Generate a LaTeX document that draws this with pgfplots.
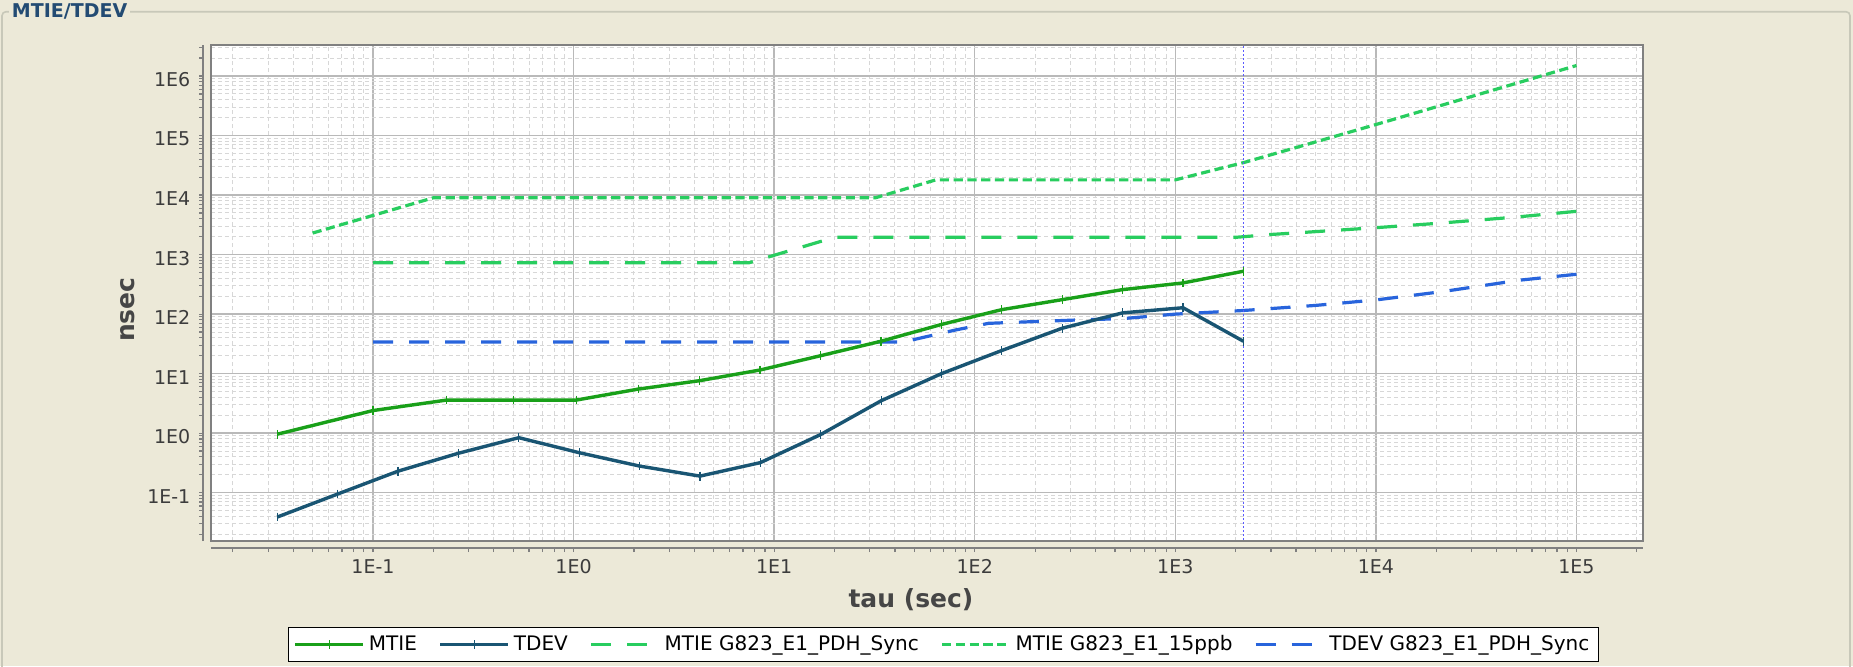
\documentclass[border=0pt]{standalone}
\usepackage{fontspec}
\setmainfont{DejaVu Sans}
\usepackage{pgfplots}
\pgfplotsset{compat=1.18}
\definecolor{bgbeige}{RGB}{236,233,216}
\definecolor{panelline}{RGB}{200,200,185}
\definecolor{titleblue}{RGB}{35,75,115}
\definecolor{mtiegreen}{RGB}{25,160,25}
\definecolor{tdevblue}{RGB}{25,85,115}
\definecolor{maskgreen}{RGB}{40,205,95}
\definecolor{maskblue}{RGB}{40,100,220}
\definecolor{crossblue}{RGB}{90,90,255}
\definecolor{axisgray}{RGB}{128,128,128}
\definecolor{majorgrid}{RGB}{185,185,185}
\definecolor{minorgrid}{RGB}{215,215,215}
\definecolor{ticktext}{RGB}{60,60,60}
\definecolor{labelgray}{RGB}{70,70,70}

\pgfplotstableread{
tau ns
0.03333 0.96
0.1 2.4
0.2333 3.6
0.5 3.6
1.0333 3.6
2.1 5.5
4.2333 7.6
8.5 11.5
17.033 20
34.1 35
68.23 67
136.5 119
273 175
546 258
1092 334
2184.5 525
}\mtie

\pgfplotstableread{
tau ns
0.03333 0.039
0.06667 0.095
0.1333 0.23
0.2667 0.46
0.5333 0.84
1.0667 0.47
2.1333 0.28
4.2667 0.19
8.5333 0.32
17.067 0.95
34.133 3.5
68.267 10
136.53 24.5
273.07 58
546.13 105
1092.3 128
2184.5 35
}\tdev

\pgfplotstableread{
tau ns
0.1 730
7.5 730
20 1950
2000 1950
3000 2177
5000 2429
10000 2832
20000 3338
50000 4270
100000 5330
}\mtiepdh

\pgfplotstableread{
tau ns
0.05 2300
0.2 9000
32 9000
64 18000
1000 18000
1500 25500
2184 35000
5000 78000
10000 153000
30000 453000
100000 1500000
}\mtieppb

\pgfplotstableread{
tau ns
0.1 34
44 34
80 54
117 70
200 75
317 79.5
546 84
1000 100
2184 115
5000 140
10000 173
21500 239
51800 371
100000 467
}\tdevpdh

\begin{document}
\begin{tikzpicture}
\fill[bgbeige] (-105.5pt,-62.5pt) rectangle (821pt,270.5pt);
\draw[panelline, line width=0.8pt, rounded corners=2pt] (-104.5pt,-80pt) rectangle (819.5pt,264.65pt);
\node[anchor=west, fill=bgbeige, inner xsep=1.5pt, inner ysep=1pt, text=titleblue,
      font=\bfseries\fontsize{9.5}{11}\selectfont] at (-101.2pt,264.65pt) {MTIE/TDEV};

\begin{axis}[
  at={(0pt,0pt)}, anchor=south west,
  scale only axis, width=716pt, height=248pt,
  xmode=log, ymode=log,
  xmin=0.01557, xmax=2.146e5, ymin=0.01543, ymax=3.317e6,
  axis background/.style={fill=white},
  axis line style={draw=axisgray, line width=0.9pt},
  xtick={0.1,1,10,100,1000,10000,100000},
  xticklabels={1E-1,1E0,1E1,1E2,1E3,1E4,1E5},
  ytick={0.1,1,10,100,1000,10000,100000,1000000},
  yticklabels={1E-1,1E0,1E1,1E2,1E3,1E4,1E5,1E6},
  minor xtick={0.02,0.03,0.04,0.05,0.06,0.07,0.08,0.09,
    0.2,0.3,0.4,0.5,0.6,0.7,0.8,0.9,
    2,3,4,5,6,7,8,9,
    20,30,40,50,60,70,80,90,
    200,300,400,500,600,700,800,900,
    2000,3000,4000,5000,6000,7000,8000,9000,
    20000,30000,40000,50000,60000,70000,80000,90000,200000},
  minor ytick={0.02,0.03,0.04,0.05,0.06,0.07,0.08,0.09,
    0.2,0.3,0.4,0.5,0.6,0.7,0.8,0.9,
    2,3,4,5,6,7,8,9,
    20,30,40,50,60,70,80,90,
    200,300,400,500,600,700,800,900,
    2000,3000,4000,5000,6000,7000,8000,9000,
    20000,30000,40000,50000,60000,70000,80000,90000,
    200000,300000,400000,500000,600000,700000,800000,900000,
    2000000,3000000},
  grid=both,
  major grid style={draw=majorgrid, line width=0.7pt},
  minor grid style={draw=minorgrid, line width=0.5pt, dash pattern=on 2pt off 1.5pt},
  tick align=inside, tick pos=left,
  major tick length=2pt, minor tick length=2pt,
  every tick/.style={draw=axisgray, line width=0.6pt},
  xtick style={yshift=-5.5pt},
  ytick style={xshift=-5.85pt},
  tick label style={font=\fontsize{9.5}{11}\selectfont, text=ticktext},
  xticklabel style={anchor=center, yshift=-12.65pt},
  yticklabel style={anchor=east, inner sep=0pt, xshift=-10.15pt, yshift=-1.8pt},
  xlabel={tau (sec)},
  xlabel style={at={(axis description cs:0.4888,-0.119)}, anchor=center,
    font=\bfseries\fontsize{12.5}{14}\selectfont, text=labelgray},
  ylabel={nsec},
  ylabel style={at={(axis description cs:-0.0582,0.4665)}, anchor=center,
    font=\bfseries\fontsize{12.5}{14}\selectfont, text=labelgray},
  legend image code/.code={\draw[mark repeat=2,mark phase=2,#1] plot coordinates {(0pt,0pt) (17pt,0pt) (34pt,0pt)};},
  legend columns=-1,
  legend style={at={(axis description cs:0.5115,-0.2087)}, anchor=center,
    draw=black, line width=0.6pt, fill=white, inner xsep=2.5pt, inner ysep=1.8pt,
    font=\fontsize{10}{12}\selectfont,
    /tikz/every even column/.append style={column sep=8.8pt}},
  legend cell align=left,
]
\addplot[maskgreen, line width=1.6pt, dash pattern=on 10pt off 8pt, forget plot] table[x=tau,y=ns] {\mtiepdh};
\addplot[maskgreen, line width=1.6pt, dash pattern=on 4.6pt off 2.3pt, forget plot] table[x=tau,y=ns] {\mtieppb};
\addplot[maskblue, line width=1.6pt, dash pattern=on 10pt off 8pt, forget plot] table[x=tau,y=ns] {\tdevpdh};
\addplot[crossblue, line width=0.4pt, dash pattern=on 1pt off 1pt, forget plot] coordinates {(2184.5,0.001) (2184.5,1e7)};
\addplot[mtiegreen, line width=1.7pt, mark=|, mark size=2.2pt, mark options={solid, line width=0.6pt}, forget plot] table[x=tau,y=ns] {\mtie};
\addplot[tdevblue, line width=1.7pt, mark=|, mark size=2.2pt, mark options={solid, line width=0.6pt}, forget plot] table[x=tau,y=ns] {\tdev};

\addlegendimage{mtiegreen, line width=1.7pt, mark=|, mark size=2.2pt, mark options={solid, line width=0.6pt}}
\addlegendentry{MTIE}
\addlegendimage{tdevblue, line width=1.7pt, mark=|, mark size=2.2pt, mark options={solid, line width=0.6pt}}
\addlegendentry{TDEV}
\addlegendimage{maskgreen, line width=1.6pt, dash pattern=on 10pt off 8pt}
\addlegendentry{MTIE G823\_E1\_PDH\_Sync}
\addlegendimage{maskgreen, line width=1.6pt, dash pattern=on 4.6pt off 2.3pt}
\addlegendentry{MTIE G823\_E1\_15ppb}
\addlegendimage{maskblue, line width=1.6pt, dash pattern=on 10pt off 8pt}
\addlegendentry{TDEV G823\_E1\_PDH\_Sync}
\end{axis}

\draw[axisgray, line width=0.8pt] (0pt,-3.5pt) -- (716pt,-3.5pt);
\draw[axisgray, line width=0.8pt] (-3.85pt,0pt) -- (-3.85pt,248pt);

\pgfresetboundingbox
\useasboundingbox (-105.5pt,-62.5pt) rectangle (821pt,270.5pt);
\end{tikzpicture}
\end{document}
